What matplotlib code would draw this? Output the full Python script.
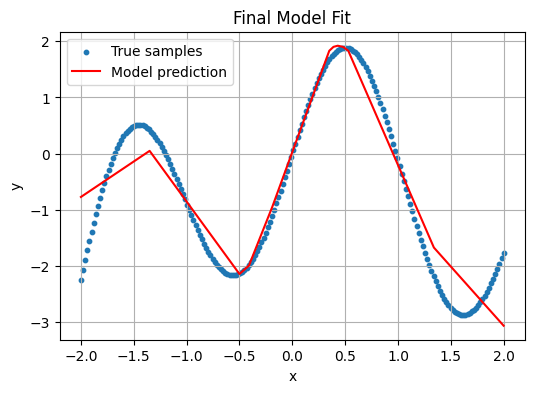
import numpy as np
import matplotlib
matplotlib.use("Agg")
import matplotlib.pyplot as plt

# Sample grid (evenly spaced samples)
x_start, x_end, n_samples = -2.0, 2.0, 200

true_y = [
    -2.241, -2.063, -1.887, -1.716, -1.548, -1.386, -1.228, -1.075, -0.927, -0.786,
    -0.651, -0.522, -0.400, -0.286, -0.178, -0.077, 0.016, 0.100, 0.178, 0.247,
    0.309, 0.362, 0.407, 0.444, 0.474, 0.495, 0.508, 0.514, 0.512, 0.503,
    0.486, 0.462, 0.431, 0.394, 0.351, 0.302, 0.247, 0.187, 0.121, 0.051,
    -0.023, -0.101, -0.182, -0.267, -0.354, -0.443, -0.534, -0.626, -0.719, -0.812,
    -0.906, -0.999, -1.090, -1.181, -1.270, -1.356, -1.440, -1.521, -1.599, -1.673,
    -1.743, -1.808, -1.869, -1.924, -1.975, -2.020, -2.059, -2.092, -2.119, -2.139,
    -2.153, -2.161, -2.162, -2.156, -2.144, -2.124, -2.099, -2.066, -2.027, -1.981,
    -1.929, -1.871, -1.806, -1.736, -1.660, -1.579, -1.493, -1.402, -1.306, -1.207,
    -1.103, -0.996, -0.886, -0.773, -0.657, -0.540, -0.422, -0.302, -0.181, -0.060,
    0.060, 0.180, 0.299, 0.417, 0.532, 0.645, 0.756, 0.863, 0.967, 1.067,
    1.162, 1.253, 1.339, 1.419, 1.494, 1.563, 1.626, 1.683, 1.732, 1.775,
    1.811, 1.840, 1.861, 1.875, 1.882, 1.881, 1.872, 1.857, 1.833, 1.802,
    1.764, 1.718, 1.665, 1.605, 1.539, 1.466, 1.386, 1.301, 1.209, 1.112,
    1.010, 0.903, 0.791, 0.676, 0.556, 0.433, 0.307, 0.179, 0.048, -0.084,
    -0.218, -0.353, -0.488, -0.623, -0.757, -0.891, -1.023, -1.154, -1.282, -1.408,
    -1.530, -1.649, -1.765, -1.876, -1.983, -2.085, -2.181, -2.272, -2.358, -2.437,
    -2.511, -2.577, -2.638, -2.691, -2.737, -2.777, -2.809, -2.834, -2.852, -2.862,
    -2.865, -2.861, -2.850, -2.833, -2.807, -2.776, -2.738, -2.693, -2.642, -2.585,
    -2.523, -2.455, -2.382, -2.305, -2.223, -2.137, -2.047, -1.954, -1.858, -1.759,
]

model_x = [-2.0, -1.35, -0.50, -0.41, -0.19, 0.35, 0.39, 0.43, 0.48, 0.53, 1.34, 2.0]
model_y = [-0.77, 0.05, -2.14, -1.99, -0.95, 1.83, 1.90, 1.92, 1.90, 1.83, -1.67, -3.06]

title = "Final Model Fit"
xlabel = "x"
ylabel = "y"
labels = ["True samples", "Model prediction"]

sample_x = np.linspace(x_start, x_end, n_samples)

fig, ax = plt.subplots(figsize=(6, 4), dpi=100)
ax.scatter(sample_x, true_y, s=10, color="C0", label=labels[0])
ax.plot(model_x, model_y, color="red", linewidth=1.5, label=labels[1])
ax.set_title(title)
ax.set_xlabel(xlabel)
ax.set_ylabel(ylabel)
ax.grid(True)
ax.legend(loc="upper left")
fig.savefig("out.png", dpi=100, bbox_inches="tight")
